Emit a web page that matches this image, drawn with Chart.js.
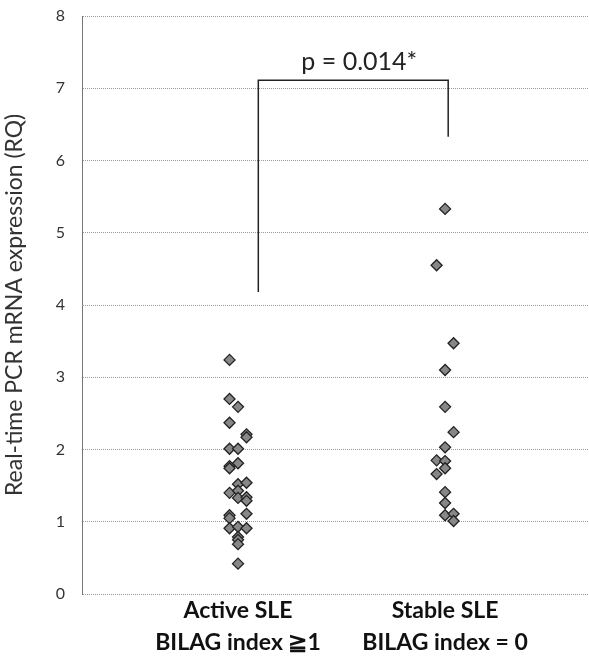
<!DOCTYPE html>
<html>
<head>
<meta charset="utf-8">
<script src="https://cdn.jsdelivr.net/npm/chart.js@4"></script>
<style>
  html, body { margin: 0; padding: 0; background: #fff; }
  #wrap { width: 589px; height: 659px; }
</style>
</head>
<body>
<div id="wrap"><canvas id="grafico"></canvas></div>
<script>
// Grupos y subtítulos del eje X
const grupos = ["Active SLE", "Stable SLE"];
const subtitulos = ["BILAG index \u22671", "BILAG index = 0"];

// Valores RQ de cada grupo
const activoRQ = [3.24, 2.70, 2.59, 2.37, 2.21, 2.17, 2.01, 2.01, 1.77, 1.74, 1.81,
  1.52, 1.54, 1.40, 1.43, 1.33, 1.34, 1.29, 1.09, 1.05, 1.11, 0.91, 0.93, 0.91,
  0.79, 0.75, 0.69, 0.42];
// columna de dispersión de cada punto (-1, 0, 1)
const activoCol = [-1, -1, 0, -1, 1, 1, -1, 0, -1, -1, 0,
  0, 1, -1, 0, 0, 1, 1, -1, -1, 1, -1, 0, 1,
  0, 0, 0, 0];

const estableRQ = [5.33, 4.55, 3.47, 3.10, 2.59, 2.24, 2.03, 1.85, 1.84, 1.74, 1.66,
  1.41, 1.26, 1.09, 1.11, 1.01];
const estableCol = [0, -1, 1, 0, 0, 1, 0, -1, 0, 0, -1,
  0, 0, 0, 1, 1];

const ticksY = [0, 1, 2, 3, 4, 5, 6, 7, 8];

// Comparación estadística
const textoP = "p = 0.014*";
const corcheteX = [1.098, 2.015];     // extremos del corchete
const corcheteY = [4.18, 7.11, 6.33]; // base izq., parte alta, base der.

const SEP = 0.041;

function aPuntos(valores, columnas, grupo) {
  return valores.map((v, i) => ({ x: grupo + columnas[i] * SEP, y: v }));
}

const pluginCorchete = {
  id: 'corchete',
  afterDatasetsDraw(chart) {
    const { ctx, scales: { x, y } } = chart;
    const x1 = x.getPixelForValue(corcheteX[0]);
    const x2 = x.getPixelForValue(corcheteX[1]);
    const yTop = y.getPixelForValue(corcheteY[1]);
    ctx.save();
    ctx.strokeStyle = '#222';
    ctx.lineWidth = 1.5;
    ctx.beginPath();
    ctx.moveTo(x1, y.getPixelForValue(corcheteY[0]));
    ctx.lineTo(x1, yTop);
    ctx.lineTo(x2, yTop);
    ctx.lineTo(x2, y.getPixelForValue(corcheteY[2]));
    ctx.stroke();
    ctx.fillStyle = '#222';
    ctx.font = '25px Lato';
    ctx.textAlign = 'center';
    ctx.textBaseline = 'middle';
    ctx.fillText(textoP, (x1 + x2) / 2 + 6, yTop - 18);
    ctx.restore();
  }
};

const estiloPunto = {
  pointStyle: 'rectRot',
  pointRadius: 5.5,
  pointHoverRadius: 5.5,
  backgroundColor: '#878787',
  borderColor: '#222',
  borderWidth: 1.3
};

new Chart(document.getElementById('grafico').getContext('2d'), {
  type: 'scatter',
  data: {
    datasets: [
      Object.assign({ label: grupos[0], data: aPuntos(activoRQ, activoCol, 1) }, estiloPunto),
      Object.assign({ label: grupos[1], data: aPuntos(estableRQ, estableCol, 2) }, estiloPunto)
    ]
  },
  options: {
    responsive: true,
    maintainAspectRatio: false,
    animation: false,
    layout: { autoPadding: false, padding: { top: 16, right: 0, left: 0, bottom: 0 } },
    plugins: { legend: { display: false }, tooltip: { enabled: false } },
    scales: {
      x: {
        type: 'linear',
        min: 0.2465,
        max: 2.695,
        afterBuildTicks: (axis) => { axis.ticks = grupos.map((g, i) => ({ value: i + 1 })); },
        afterFit: (scale) => { scale.height = 65; scale.paddingLeft = 0; scale.paddingRight = 0; },
        grid: { display: false, drawTicks: false },
        border: { display: false },
        ticks: {
          autoSkip: false,
          maxRotation: 0,
          padding: 0,
          color: '#111',
          font: { family: 'Lato', size: 23, weight: 'bold', lineHeight: 1.4 },
          callback: (v) => [grupos[v - 1], subtitulos[v - 1]]
        }
      },
      y: {
        min: 0,
        max: 8,
        afterBuildTicks: (axis) => { axis.ticks = ticksY.map(v => ({ value: v })); },
        afterFit: (scale) => { scale.width = 82; scale.paddingTop = 0; scale.paddingBottom = 0; },
        grid: { color: '#9a9a9a', lineWidth: 1, drawTicks: false },
        border: { display: true, color: '#777', dash: [1, 1] },
        ticks: { padding: 17, color: '#333', font: { family: 'Lato', size: 16 } },
        title: {
          display: true,
          text: 'Real-time PCR mRNA expression (RQ)',
          color: '#333',
          font: { family: 'Lato', size: 23 },
          padding: { top: 1, bottom: 0 }
        }
      }
    }
  },
  plugins: [pluginCorchete]
});
</script>
</body>
</html>
